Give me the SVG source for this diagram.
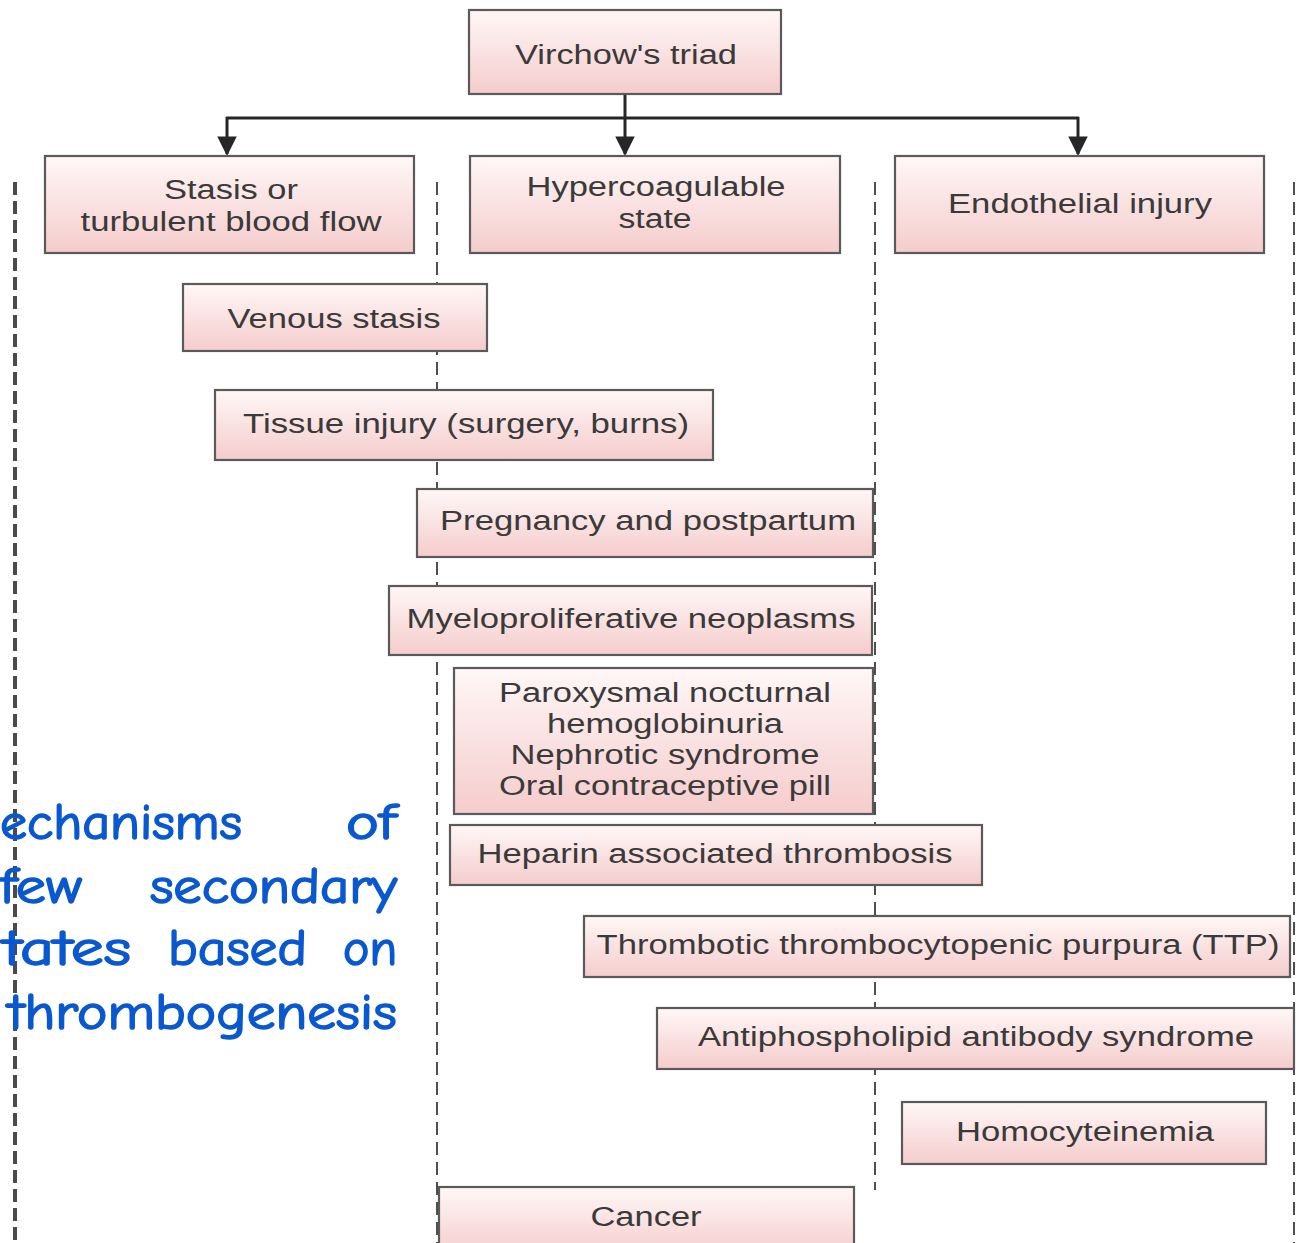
<svg xmlns="http://www.w3.org/2000/svg" width="1301" height="1243" viewBox="0 0 1301 1243">
  <style>
    .box { fill: url(#boxFill); stroke: #5a5a5a; stroke-width: 2.2; }
    .lbl { font-family: "Liberation Sans", Arial, sans-serif; font-size: 27px; fill: #3a3a3a; text-anchor: middle; }
    .guide { stroke: #3c3c3c; stroke-width: 1.8; stroke-dasharray: 13 7; fill: none; }
    .guide-bold { stroke: #4a4a4a; stroke-width: 4; stroke-dasharray: 13 6; fill: none; }
    .link { stroke: #262626; stroke-width: 3; fill: none; }
    .note { font-family: "Comic Sans MS", "Comic Neue", "DejaVu Sans", sans-serif; font-size: 50px; fill: #0a58d0; stroke: #0a58d0; stroke-width: 1.6; }
  </style>
  <defs>
    <linearGradient id="boxFill" x1="0" y1="0" x2="0" y2="1">
      <stop offset="0" stop-color="#fff7f7"/>
      <stop offset="1" stop-color="#f5cccc"/>
    </linearGradient>
    <marker id="arrow" viewBox="0 0 10 10" refX="9" refY="5" markerWidth="6.5" markerHeight="6.5" orient="auto" markerUnits="strokeWidth">
      <path d="M0,0 L10,5 L0,10 z" fill="#262626"/>
    </marker>
  </defs>

  <rect x="0" y="0" width="1301" height="1243" fill="#ffffff"/>

  <!-- column guides -->
  <g id="guides">
    <line class="guide-bold" x1="15" y1="182" x2="15" y2="1243"/>
    <line class="guide" x1="437" y1="182" x2="437" y2="1243"/>
    <line class="guide" x1="875" y1="182" x2="875" y2="1190"/>
    <line class="guide" x1="1294" y1="182" x2="1294" y2="1243"/>
  </g>

  <!-- connectors -->
  <g id="connectors">
    <line class="link" x1="625" y1="94" x2="625" y2="154" marker-end="url(#arrow)"/>
    <line class="link" x1="226" y1="118" x2="1079" y2="118"/>
    <line class="link" x1="227" y1="117" x2="227" y2="154" marker-end="url(#arrow)"/>
    <line class="link" x1="1078" y1="117" x2="1078" y2="154" marker-end="url(#arrow)"/>
  </g>

  <g id="virchow">
    <rect class="box" x="469" y="10" width="312" height="84"/>
    <text class="lbl" x="626" y="64" textLength="222" lengthAdjust="spacingAndGlyphs">Virchow's triad</text>
  </g>

  <g id="stasis">
    <rect class="box" x="45" y="156" width="369" height="97"/>
    <text class="lbl" x="231" y="199" textLength="134" lengthAdjust="spacingAndGlyphs">Stasis or</text>
    <text class="lbl" x="231" y="231" textLength="301" lengthAdjust="spacingAndGlyphs">turbulent blood flow</text>
  </g>

  <g id="hypercoagulable">
    <rect class="box" x="470" y="156" width="370" height="97"/>
    <text class="lbl" x="656" y="196" textLength="259" lengthAdjust="spacingAndGlyphs">Hypercoagulable</text>
    <text class="lbl" x="655" y="228" textLength="73" lengthAdjust="spacingAndGlyphs">state</text>
  </g>

  <g id="endothelial">
    <rect class="box" x="895" y="156" width="369" height="97"/>
    <text class="lbl" x="1080" y="213" textLength="264" lengthAdjust="spacingAndGlyphs">Endothelial injury</text>
  </g>

  <g id="venous-stasis">
    <rect class="box" x="183" y="284" width="304" height="67"/>
    <text class="lbl" x="334" y="328" textLength="213" lengthAdjust="spacingAndGlyphs">Venous stasis</text>
  </g>

  <g id="tissue-injury">
    <rect class="box" x="215" y="390" width="498" height="70"/>
    <text class="lbl" x="466" y="433" textLength="446" lengthAdjust="spacingAndGlyphs">Tissue injury (surgery, burns)</text>
  </g>

  <g id="pregnancy">
    <rect class="box" x="417" y="489" width="456" height="68"/>
    <text class="lbl" x="648" y="530" textLength="416" lengthAdjust="spacingAndGlyphs">Pregnancy and postpartum</text>
  </g>

  <g id="myeloproliferative">
    <rect class="box" x="389" y="586" width="483" height="69"/>
    <text class="lbl" x="631" y="628" textLength="449" lengthAdjust="spacingAndGlyphs">Myeloproliferative neoplasms</text>
  </g>

  <g id="pnh-nephrotic-ocp">
    <rect class="box" x="454" y="668" width="419" height="146"/>
    <text class="lbl" x="665" y="702" textLength="332" lengthAdjust="spacingAndGlyphs">Paroxysmal nocturnal</text>
    <text class="lbl" x="665" y="733" textLength="236" lengthAdjust="spacingAndGlyphs">hemoglobinuria</text>
    <text class="lbl" x="665" y="764" textLength="309" lengthAdjust="spacingAndGlyphs">Nephrotic syndrome</text>
    <text class="lbl" x="665" y="795" textLength="332" lengthAdjust="spacingAndGlyphs">Oral contraceptive pill</text>
  </g>

  <g id="heparin">
    <rect class="box" x="450" y="825" width="532" height="60"/>
    <text class="lbl" x="715" y="863" textLength="475" lengthAdjust="spacingAndGlyphs">Heparin associated thrombosis</text>
  </g>

  <g id="ttp">
    <rect class="box" x="584" y="916" width="706" height="61"/>
    <text class="lbl" x="938" y="954" textLength="683" lengthAdjust="spacingAndGlyphs">Thrombotic thrombocytopenic purpura (TTP)</text>
  </g>

  <g id="antiphospholipid">
    <rect class="box" x="657" y="1008" width="637" height="61"/>
    <text class="lbl" x="976" y="1046" textLength="556" lengthAdjust="spacingAndGlyphs">Antiphospholipid antibody syndrome</text>
  </g>

  <g id="homocyteinemia">
    <rect class="box" x="902" y="1102" width="364" height="62"/>
    <text class="lbl" x="1085" y="1141" textLength="258" lengthAdjust="spacingAndGlyphs">Homocyteinemia</text>
  </g>

  <g id="cancer">
    <rect class="box" x="439" y="1187" width="415" height="70"/>
    <text class="lbl" x="646" y="1226" textLength="111" lengthAdjust="spacingAndGlyphs">Cancer</text>
  </g>

  <!-- side caption, justified word by word -->
  <g id="caption">
    <text class="note" x="0" y="839" textLength="242" lengthAdjust="spacingAndGlyphs">echanisms</text>
    <text class="note" x="346" y="839" textLength="50" lengthAdjust="spacingAndGlyphs">of</text>
    <text class="note" x="0" y="903" textLength="82" lengthAdjust="spacingAndGlyphs">few</text>
    <text class="note" x="150" y="903" textLength="247" lengthAdjust="spacingAndGlyphs">secondary</text>
    <text class="note" x="3" y="965" textLength="128" lengthAdjust="spacingAndGlyphs">tates</text>
    <text class="note" x="168" y="965" textLength="139" lengthAdjust="spacingAndGlyphs">based</text>
    <text class="note" x="343" y="965" textLength="54" lengthAdjust="spacingAndGlyphs">on</text>
    <text class="note" x="8" y="1029" textLength="389" lengthAdjust="spacingAndGlyphs">thrombogenesis</text>
  </g>
</svg>
